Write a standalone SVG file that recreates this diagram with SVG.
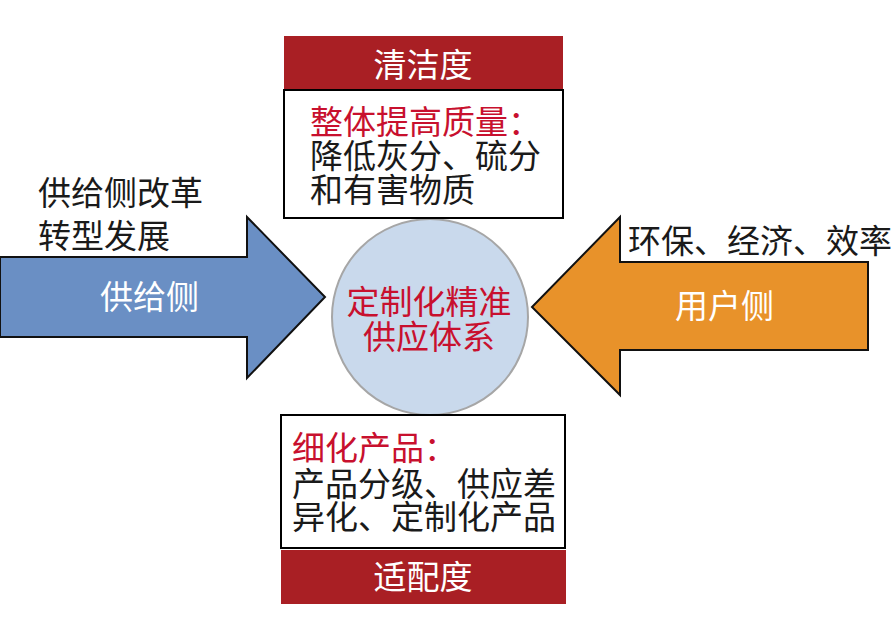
<svg xmlns="http://www.w3.org/2000/svg" width="895" height="641" viewBox="0 0 895 641">
<style>
text{font-family:"Noto Sans CJK SC","Noto Sans",sans-serif;font-size:33px}
.bk{fill:#1a1a1a}
.wt{fill:#ffffff}
.rd{fill:#c8102e}
.bar{fill:#a91f24}
.box{fill:#ffffff;stroke:#000;stroke-width:2}
.arr{stroke:#111;stroke-width:2}
</style>
<rect width="895" height="641" fill="#ffffff"/>
<g id="connectors">
<g id="supply-arrow">
<polygon class="arr" fill="#6a8fc4" points="0,257 247,257 247,217 325,297 247,378 247,337 0,337"/>
<text class="wt" x="100" y="309">供给侧</text>
</g>
<g id="user-arrow">
<polygon class="arr" fill="#e8922a" points="868,262 620,262 620,217 532,307 620,395 620,350 868,350"/>
<text class="wt" x="675" y="318">用户侧</text>
</g>
</g>
<g id="supply-label">
<text class="bk"><tspan x="38" y="205">供给侧改革</tspan><tspan x="38" y="248">转型发展</tspan></text>
</g>
<g id="user-label">
<text class="bk" x="628" y="253">环保、经济、效率</text>
</g>
<g id="center">
<circle cx="430" cy="317" r="98" fill="#c9d9ec" stroke="#a6a6a6" stroke-width="2"/>
<text class="rd" text-anchor="middle"><tspan x="429" y="314">定制化精准</tspan><tspan x="429" y="349">供应体系</tspan></text>
</g>
<g id="cleanliness">
<rect class="bar" x="284" y="36" width="279" height="54"/>
<text class="wt" x="423" y="77" text-anchor="middle">清洁度</text>
<rect class="box" x="284" y="90" width="279" height="128"/>
<text><tspan class="rd" x="310" y="134">整体提高质量：</tspan><tspan class="bk" x="310" y="168">降低灰分、硫分</tspan><tspan class="bk" x="310" y="202">和有害物质</tspan></text>
</g>
<g id="fitness">
<rect class="box" x="281" y="415" width="284" height="133"/>
<text><tspan class="rd" x="292" y="460">细化产品：</tspan><tspan class="bk" x="292" y="496">产品分级、供应差</tspan><tspan class="bk" x="292" y="529">异化、定制化产品</tspan></text>
<rect class="bar" x="281" y="550" width="285" height="54"/>
<text class="wt" x="423" y="589" text-anchor="middle">适配度</text>
</g>
</svg>
